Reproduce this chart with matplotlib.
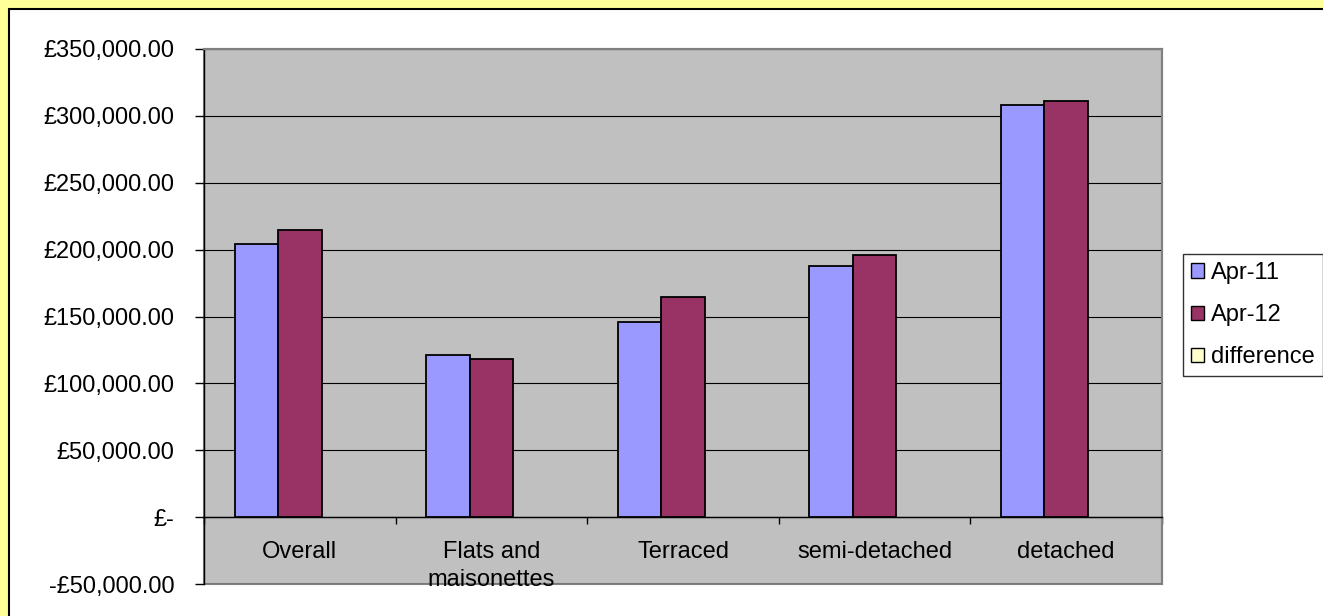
import matplotlib
matplotlib.use("Agg")
import matplotlib.pyplot as plt
import numpy as np
from matplotlib.patches import Rectangle, Patch
from matplotlib.ticker import FuncFormatter, FixedLocator

plt.rcParams['font.family'] = ['Liberation Sans', 'DejaVu Sans']

categories = ["Overall", "Flats and\nmaisonettes", "Terraced", "semi-detached", "detached"]
apr11 = [204400, 121400, 145600, 187400, 308100]
apr12 = [214400, 117900, 164400, 196200, 311100]
difference = [np.nan, np.nan, np.nan, np.nan, np.nan]
series_names = ["Apr-11", "Apr-12", "difference"]
colors = ["#9999FF", "#993366", "#FFFFCC"]
yticks = [-50000, 0, 50000, 100000, 150000, 200000, 250000, 300000, 350000]

FS = 17
W, H = 1323, 616
fig = plt.figure(figsize=(W / 100, H / 100), dpi=100)
fig.patch.set_facecolor("#FFFF99")
bg = Rectangle((9 / W, -0.1), 1.2, 1.1 - 9 / H, transform=fig.transFigure,
               facecolor="white", edgecolor="black", linewidth=1.5, zorder=-10)
fig.add_artist(bg)

left, right, top, bottom = 204 / W, 1162 / W, 49 / H, 584 / H
ax = fig.add_axes([left, 1 - bottom, right - left, bottom - top])
ax.set_zorder(5)
ax.set_facecolor("#C0C0C0")

x = np.arange(len(categories))
w = 0.227
for i, (vals, name, c) in enumerate(zip([apr11, apr12, difference], series_names, colors)):
    ax.bar(x + (i - 1) * w, vals, width=w, color=c, edgecolor="black", linewidth=1.3, zorder=3)

ax.set_xlim(-0.5, len(categories) - 0.5)
ax.set_ylim(-50000, 350000)
ax.yaxis.set_major_locator(FixedLocator(yticks))

def fmt(v, pos):
    if v == 0:
        return "£-"
    if v < 0:
        return "-£{:,.2f}".format(-v)
    return "£{:,.2f}".format(v)

ax.yaxis.set_major_formatter(FuncFormatter(fmt))
ax.tick_params(axis="y", direction="out", length=6.5, width=1, pad=15, labelsize=FS, colors="black")
ax.yaxis.grid(True, color="black", linewidth=0.8, zorder=1)
ax.set_axisbelow(True)

for s in ["top", "right"]:
    ax.spines[s].set_color("#808080")
    ax.spines[s].set_linewidth(1.5)
ax.spines["left"].set_color("black")
ax.spines["left"].set_linewidth(1.0)
ax.spines["bottom"].set_position(("data", 0))
ax.spines["bottom"].set_color("black")
ax.spines["bottom"].set_linewidth(1.0)
ax.add_patch(Rectangle((0, 0), 1, 1, transform=ax.transAxes, fill=False,
                       edgecolor="#808080", linewidth=1.5, zorder=0.5, clip_on=False))

ax.xaxis.set_major_locator(FixedLocator(np.arange(len(categories) + 1) - 0.5))
ax.xaxis.set_major_formatter(FuncFormatter(lambda v, p: ""))
ax.tick_params(axis="x", direction="out", length=5, width=1, colors="black")

for xi, lab in zip(x, categories):
    ax.text(xi, -17500, lab, ha="center", va="top", fontsize=FS, linespacing=1.4,
            clip_on=False, zorder=5)

handles = [Patch(facecolor=c, edgecolor="black", linewidth=1.0) for c in colors]
leg = fig.legend(handles, series_names, loc="center left",
                 bbox_to_anchor=(1183 / W, 1 - 315 / H), fontsize=FS,
                 frameon=True, fancybox=False, edgecolor="black",
                 handlelength=0.55, handleheight=0.55, handletextpad=0.3,
                 borderpad=0.35, labelspacing=0.85, borderaxespad=0)
leg.get_frame().set_linewidth(1.0)
leg.set_zorder(6)

fig.savefig("out.png", dpi=100, facecolor=fig.get_facecolor())
